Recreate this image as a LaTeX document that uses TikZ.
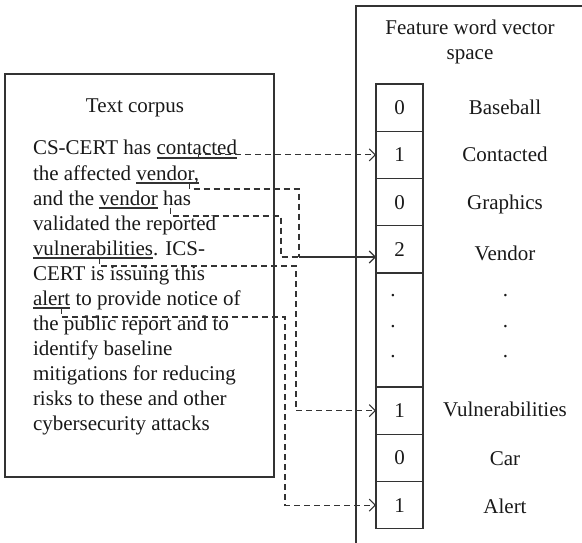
\documentclass[tikz,border=0pt]{standalone}
\usepackage{fontspec}
\setmainfont{Liberation Serif}
\usetikzlibrary{arrows.meta,calc}
\begin{document}
\begin{tikzpicture}[x=1pt,y=-1pt,
  every node/.style={font=\fontsize{21}{25}\selectfont, text=black!90},
  txt/.style={inner sep=0pt, outer sep=0pt, anchor=base west},
  lab/.style={inner sep=0pt, anchor=base},
  cell/.style={draw=black!80, line width=1.1pt, minimum width=47pt, inner sep=0pt, outer sep=0pt},
  frame/.style={draw=black!80, line width=1.1pt},
  ul/.style={draw=black!80, line width=1.1pt},
  conn/.style={draw=black!80, line width=1.1pt, dash pattern=on 6pt off 4pt},
  tip/.style={-{Straight Barb[length=6pt,width=12pt,line width=1.1pt]}},
]
\useasboundingbox (0,0) rectangle (582,543);

% frames
\draw[frame] (5,74) rectangle (274,477);
\draw[frame] (582,6) -- (356,6) -- (356,543);

% titles
\node[lab] (tc) at (135,113) {Text corpus};
\node[lab] (fw1) at (470,35) {Feature word vector};
\node[lab] (fw2) at (470,60) {space};

% corpus text
\node[txt] (l1a) at (33,155) {CS-CERT has};
\node[txt] (w1) at ([xshift=5.25pt]l1a.base east) {contacted};
\node[txt] (l2a) at (33,180) {the affected};
\node[txt] (w2) at ([xshift=5.25pt]l2a.base east) {vendor,};
\node[txt] (l3a) at (33,205) {and the};
\node[txt] (w3) at ([xshift=5.25pt]l3a.base east) {vendor};
\node[txt] (l3b) at ([xshift=5.25pt]w3.base east) {has};
\node[txt] (l4) at (33,230) {validated the reported};
\node[txt] (w5) at (33,255) {vulnerabilities};
\node[txt] (l5b) at (w5.base east) {. ICS-};
\node[txt] (l6) at (33,280) {CERT is issuing this};
\node[txt] (w7) at (33,305) {alert};
\node[txt] (l7b) at ([xshift=5.25pt]w7.base east) {to provide notice of};
\node[txt] (l8) at (33,330) {the public report and to};
\node[txt] (l9) at (33,355) {identify baseline};
\node[txt] (l10) at (33,380) {mitigations for reducing};
\node[txt] (l11) at (33,405) {risks to these and other};
\node[txt] (l12) at (33,430) {cybersecurity attacks};

% underlines
\foreach \w in {w1,w2,w3,w5,w7}
  \draw[ul] ($(\w.base west)+(0,3)$) -- ($(\w.base east)+(0,3)$);

% vector cells
\node[cell, minimum height=47.25pt] (c1) at (399.5,107.625) {0};
\node[cell, minimum height=47.25pt] (c2) at (399.5,154.875) {1};
\node[cell, minimum height=47.25pt] (c3) at (399.5,202.125) {0};
\node[cell, minimum height=47.25pt] (c4) at (399.5,249.375) {2};
\node[cell, minimum height=114pt] (c5) at (399.5,330) {};
\node[cell, minimum height=47.25pt] (c6) at (399.5,410.625) {1};
\node[cell, minimum height=47.25pt] (c7) at (399.5,457.875) {0};
\node[cell, minimum height=47.25pt] (c8) at (399.5,505.125) {1};

\node[lab] (d1) at (393,296.5) {.};
\node[lab] (d2) at (393,327.5) {.};
\node[lab] (d3) at (393,357.5) {.};

% labels
\node[lab] (n1) at (505,115) {Baseball};
\node[lab] (n2) at (505,161.7) {Contacted};
\node[lab] (n3) at (505,210) {Graphics};
\node[lab] (n4) at (505,260.5) {Vendor};
\node[lab] (e1) at (505.5,296.5) {.};
\node[lab] (e2) at (505.5,327.5) {.};
\node[lab] (e3) at (505.5,357.5) {.};
\node[lab] (n6) at (505,416.7) {Vulnerabilities};
\node[lab] (n7) at (505,465) {Car};
\node[lab] (n8) at (505,513.3) {Alert};

% connector points
\coordinate (t1) at ($(w1.base west)!0.52!(w1.base east)+(0,3)$);
\coordinate (t2) at ($(w2.base west)!0.85!(w2.base east)+(0,3)$);
\coordinate (t3) at ($(w3.base west)!1.22!(w3.base east)+(0,3)$);
\coordinate (t5) at ($(w5.base west)!0.55!(w5.base east)+(0,3)$);
\coordinate (t7) at ($(w7.base west)!0.76!(w7.base east)+(0,3)$);
\coordinate (v1) at (299,189);
\coordinate (m) at (299,257);
\coordinate (v2) at (281,216);
\coordinate (v3) at (296,266);
\coordinate (v4) at (285,317);

% connectors
\draw[conn,tip] (t1) |- (c2.west);
\draw[conn] (t2) |- (v1) -- (m);
\draw[conn] (t3) |- (v2) |- (m);
\draw[ul,tip] (m) -- (c4.west |- m);
\draw[conn,tip] (t5) |- (v3) |- (c6.west);
\draw[conn,tip] (t7) |- (v4) |- (c8.west);
\end{tikzpicture}
\end{document}
